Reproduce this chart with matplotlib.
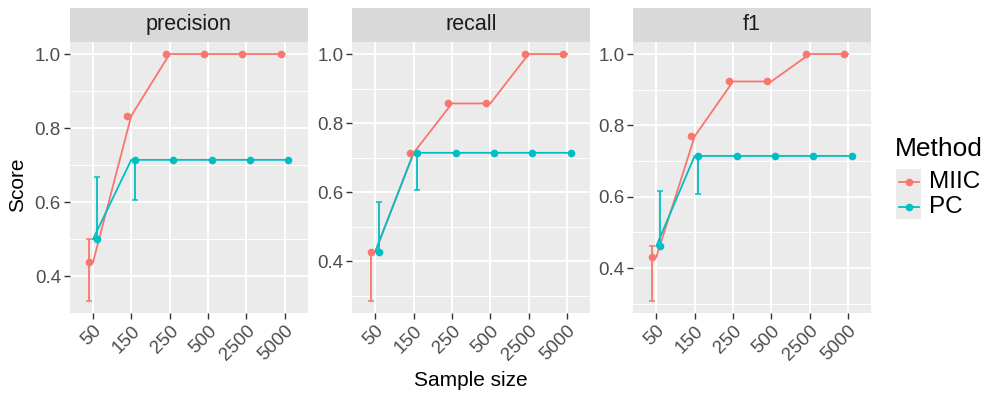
import matplotlib
matplotlib.use("Agg")
import matplotlib.pyplot as plt
from matplotlib.lines import Line2D
from matplotlib.patches import Rectangle
import numpy as np

plt.rcParams['font.family'] = ['Liberation Sans', 'DejaVu Sans']

# ---- data -------------------------------------------------------------
sample_sizes = ["50", "150", "250", "500", "2500", "5000"]
metrics = ["precision", "recall", "f1"]
methods = ["MIIC", "PC"]

precision_miic = [0.4375, 0.8333, 1.0, 1.0, 1.0, 1.0]
precision_miic_lo = [0.3333, 0.8333, 1.0, 1.0, 1.0, 1.0]
precision_miic_hi = [0.5, 0.8333, 1.0, 1.0, 1.0, 1.0]
precision_pc = [0.5, 0.7143, 0.7143, 0.7143, 0.7143, 0.7143]
precision_pc_lo = [0.5, 0.6071, 0.7143, 0.7143, 0.7143, 0.7143]
precision_pc_hi = [0.6667, 0.7143, 0.7143, 0.7143, 0.7143, 0.7143]

recall_miic = [0.4286, 0.7143, 0.8571, 0.8571, 1.0, 1.0]
recall_miic_lo = [0.2857, 0.7143, 0.8571, 0.8571, 1.0, 1.0]
recall_miic_hi = [0.4286, 0.7143, 0.8571, 0.8571, 1.0, 1.0]
recall_pc = [0.4286, 0.7143, 0.7143, 0.7143, 0.7143, 0.7143]
recall_pc_lo = [0.4286, 0.6071, 0.7143, 0.7143, 0.7143, 0.7143]
recall_pc_hi = [0.5714, 0.7143, 0.7143, 0.7143, 0.7143, 0.7143]

f1_miic = [0.4308, 0.7692, 0.9231, 0.9231, 1.0, 1.0]
f1_miic_lo = [0.3077, 0.7692, 0.9231, 0.9231, 1.0, 1.0]
f1_miic_hi = [0.4615, 0.7692, 0.9231, 0.9231, 1.0, 1.0]
f1_pc = [0.4615, 0.7143, 0.7143, 0.7143, 0.7143, 0.7143]
f1_pc_lo = [0.4615, 0.6071, 0.7143, 0.7143, 0.7143, 0.7143]
f1_pc_hi = [0.6154, 0.7143, 0.7143, 0.7143, 0.7143, 0.7143]

series = {
    "precision": {"MIIC": (precision_miic, precision_miic_lo, precision_miic_hi),
                  "PC": (precision_pc, precision_pc_lo, precision_pc_hi)},
    "recall": {"MIIC": (recall_miic, recall_miic_lo, recall_miic_hi),
               "PC": (recall_pc, recall_pc_lo, recall_pc_hi)},
    "f1": {"MIIC": (f1_miic, f1_miic_lo, f1_miic_hi),
           "PC": (f1_pc, f1_pc_lo, f1_pc_hi)},
}

colors = {"MIIC": "#F8766D", "PC": "#00BFC4"}
dodge = {"MIIC": -0.1, "PC": 0.1}

# ---- layout (pixel geometry) -----------------------------------------
W, H = 988, 394
fig = plt.figure(figsize=(W / 100, H / 100), dpi=100)

panel_x = [(70, 307.5), (352.3, 590), (633.3, 871)]
panel_top, panel_bot = 41.7, 313.3
strip_top = 8

def fig_rect(x0, x1, ytop, ybot):
    return [x0 / W, 1 - ybot / H, (x1 - x0) / W, (ybot - ytop) / H]

def fx(px):
    return px / W

def fy(py):
    return 1 - py / H

grey_txt = "#4D4D4D"
x = np.arange(len(sample_sizes))

for (x0, x1), metric in zip(panel_x, metrics):
    ax = fig.add_axes(fig_rect(x0, x1, panel_top, panel_bot))
    ax.set_facecolor("#EBEBEB")
    for s in ax.spines.values():
        s.set_visible(False)

    lo_all = min(min(series[metric][m][1]) for m in methods)
    hi_all = max(max(series[metric][m][2]) for m in methods)
    pad = 0.05 * (hi_all - lo_all)
    ax.set_ylim(lo_all - pad, hi_all + pad)
    ax.set_xlim(-0.6, len(sample_sizes) - 1 + 0.6)

    ax.set_yticks([0.4, 0.6, 0.8, 1.0])
    ax.set_yticklabels(["0.4", "0.6", "0.8", "1.0"])
    ax.set_yticks([0.3, 0.5, 0.7, 0.9], minor=True)
    ax.set_xticks(x)
    ax.set_xticklabels(sample_sizes, rotation=45, ha="right", va="top",
                       rotation_mode="anchor")
    ax.tick_params(axis="both", which="major", length=4, width=1.0,
                   color="#333333", labelcolor=grey_txt, labelsize=13.5, pad=2.5)
    ax.tick_params(axis="y", which="minor", length=0)
    ax.grid(True, which="major", color="white", linewidth=1.3)
    ax.grid(True, which="minor", axis="y", color="white", linewidth=0.65)
    ax.set_axisbelow(True)

    for m in methods:
        vals, lo, hi = series[metric][m]
        vals = np.array(vals); lo = np.array(lo); hi = np.array(hi)
        c = colors[m]
        ax.plot(x, vals, color=c, lw=1.3, zorder=3)
        ax.errorbar(x + dodge[m], vals, yerr=[vals - lo, hi - vals], fmt="none",
                    ecolor=c, elinewidth=1.3, capsize=2, capthick=1.1, zorder=3)
        ax.plot(x + dodge[m], vals, "o", color=c, ms=5.5, mec="none", zorder=4)

    # facet strip
    sax = fig.add_axes(fig_rect(x0, x1, strip_top, panel_top))
    sax.set_facecolor("#D9D9D9")
    sax.set_xticks([]); sax.set_yticks([])
    for s in sax.spines.values():
        s.set_visible(False)
    sax.text(0.5, 0.5, metric, ha="center", va="center", fontsize=15.5,
             color="#1A1A1A", transform=sax.transAxes)

# axis titles
fig.text(fx(470.5), fy(381), "Sample size", ha="center", va="center",
         fontsize=15, color="black")
fig.text(fx(18), fy(185), "Score", ha="center", va="center",
         rotation=90, fontsize=15, color="black")

# legend: title, grey key background, line+point keys and labels
fig.text(fx(895), fy(149), "Method", ha="left", va="center",
         fontsize=19, color="black")
fig.patches.append(Rectangle((fx(896), fy(219)), fx(921) - fx(896),
                             fy(169) - fy(219), transform=fig.transFigure,
                             facecolor="#EBEBEB", edgecolor="none"))
for m, ky in zip(methods, [181.5, 207]):
    fig.add_artist(Line2D([fx(898.5), fx(918.5)], [fy(ky), fy(ky)],
                          transform=fig.transFigure, color=colors[m], lw=1.3))
    fig.add_artist(Line2D([fx(908.5)], [fy(ky)], transform=fig.transFigure,
                          color=colors[m], marker="o", ms=5.5, mec="none"))
    fig.text(fx(929), fy(ky), m, ha="left", va="center", fontsize=17.5,
             color="black")

fig.savefig("out.png", dpi=100)
